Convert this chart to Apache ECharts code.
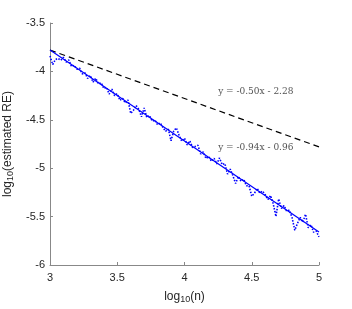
<!DOCTYPE html>
<html><head><meta charset="utf-8">
<script src="https://cdn.jsdelivr.net/npm/echarts@6/dist/echarts.min.js"></script>
<style>html,body{margin:0;padding:0;background:#fff}#c{width:352px;height:309px}</style>
</head><body><div id="c"></div>
<script>
var logN = [3.00,3.02,3.04,3.06,3.08,3.10,3.12,3.14,3.16,3.18,3.20,3.22,3.24,3.26,3.28,3.30,3.32,3.34,3.36,3.38,3.40,3.42,3.44,3.46,3.48,3.50,3.52,3.54,3.56,3.58,3.60,3.62,3.64,3.66,3.68,3.70,3.72,3.74,3.76,3.78,3.80,3.82,3.84,3.86,3.88,3.90,3.92,3.94,3.96,3.98,4.00,4.02,4.04,4.06,4.08,4.10,4.12,4.14,4.16,4.18,4.20,4.22,4.24,4.26,4.28,4.30,4.32,4.34,4.36,4.38,4.40,4.42,4.44,4.46,4.48,4.50,4.52,4.54,4.56,4.58,4.60,4.62,4.64,4.66,4.68,4.70,4.72,4.74,4.76,4.78,4.80,4.82,4.84,4.86,4.88,4.90,4.92,4.94,4.96,4.98,5.00];
var logRE = [-3.840,-3.929,-3.878,-3.866,-3.885,-3.854,-3.903,-3.882,-3.950,-3.939,-3.978,-3.967,-4.026,-4.014,-4.073,-4.042,-4.111,-4.070,-4.128,-4.117,-4.176,-4.165,-4.234,-4.182,-4.251,-4.230,-4.299,-4.278,-4.326,-4.295,-4.434,-4.403,-4.352,-4.390,-4.469,-4.378,-4.477,-4.456,-4.514,-4.503,-4.552,-4.531,-4.580,-4.618,-4.597,-4.716,-4.615,-4.584,-4.662,-4.721,-4.690,-4.759,-4.718,-4.786,-4.775,-4.764,-4.853,-4.832,-4.900,-4.879,-4.928,-4.897,-4.956,-4.894,-4.963,-4.952,-5.061,-5.010,-5.078,-5.157,-5.086,-5.135,-5.114,-5.182,-5.181,-5.290,-5.259,-5.208,-5.256,-5.235,-5.274,-5.323,-5.282,-5.370,-5.499,-5.318,-5.417,-5.386,-5.444,-5.433,-5.512,-5.641,-5.570,-5.508,-5.557,-5.476,-5.615,-5.584,-5.662,-5.651,-5.710];
var lineX = [3, 5];
var fitY = [-3.78, -5.66];
var refY = [-3.78, -4.78];
var fitLabel = "y = -0.94x - 0.96";
var refLabel = "y = -0.50x - 2.28";
var fitLabelPos = [4.25, -4.79];
var refLabelPos = [4.25, -4.21];
var xTicks = [3, 3.5, 4, 4.5, 5];
var yTicks = [-3.5, -4, -4.5, -5, -5.5, -6];

function pairs(xs, ys){ return xs.map(function(x,i){ return [x, ys[i]]; }); }

var chart = echarts.init(document.getElementById('c'), null, {renderer:'canvas'});
var sans = 'Liberation Sans, Arial, sans-serif';
var serif = 'DejaVu Serif, Liberation Serif, serif';
var axisCol = '#888888';
var txtCol = '#262626';
chart.setOption({
  animation: false,
  backgroundColor: '#fff',
  grid: {left: 50, right: 33, top: 23, bottom: 44, containLabel: false, outerBoundsMode: 'none'},
  xAxis: {
    type: 'value', min: 3, max: 5, interval: 0.5,
    axisLine: {show: true, onZero: false, lineStyle: {color: axisCol, width: 1}},
    axisTick: {show: true, inside: true, length: 3, lineStyle: {color: axisCol}},
    splitLine: {show: false},
    axisLabel: {color: txtCol, fontFamily: sans, fontSize: 11, margin: 7,
      formatter: function(v){ return xTicks.indexOf(v) >= 0 ? String(v) : ''; }},
    name: '{a|log}{s|10}{a|(n)}', nameLocation: 'middle', nameGap: 24,
    nameTextStyle: {rich: {a: {fontFamily: sans, fontSize: 12, color: txtCol},
      s: {fontFamily: sans, fontSize: 9, color: txtCol, verticalAlign: 'bottom', padding: [6,0,0,0]}}}
  },
  yAxis: {
    type: 'value', min: -6, max: -3.5, interval: 0.5,
    axisLine: {show: true, onZero: false, lineStyle: {color: axisCol, width: 1}},
    axisTick: {show: true, inside: true, length: 3, lineStyle: {color: axisCol}},
    splitLine: {show: false},
    axisLabel: {color: txtCol, fontFamily: sans, fontSize: 11, margin: 5,
      formatter: function(v){ return yTicks.indexOf(v) >= 0 ? String(v) : ''; }},
    name: '{a|log}{s|10}{a|(estimated RE)}', nameLocation: 'middle', nameGap: 27, nameRotate: 90,
    nameTextStyle: {rich: {a: {fontFamily: sans, fontSize: 12, color: txtCol},
      s: {fontFamily: sans, fontSize: 9, color: txtCol, verticalAlign: 'bottom', padding: [6,0,0,0]}}}
  },
  series: [
    {type: 'line', data: pairs(lineX, refY), symbol: 'none', silent: true,
      lineStyle: {color: '#000', width: 1.2, type: [6, 4]}},
    {type: 'line', data: pairs(logN, logRE), symbol: 'none', silent: true,
      lineStyle: {color: '#0000ff', width: 1.6, type: [1.5, 1.5]}},
    {type: 'line', data: pairs(lineX, fitY), symbol: 'none', silent: true,
      lineStyle: {color: '#0000ff', width: 1.2}},
    {type: 'scatter', symbolSize: 0, silent: true,
      data: [{value: refLabelPos, name: refLabel}, {value: fitLabelPos, name: fitLabel}],
      label: {show: true, position: 'right', distance: 0, formatter: '{b}',
        fontFamily: serif, fontSize: 9, color: txtCol}}
  ]
});
</script></body></html>
